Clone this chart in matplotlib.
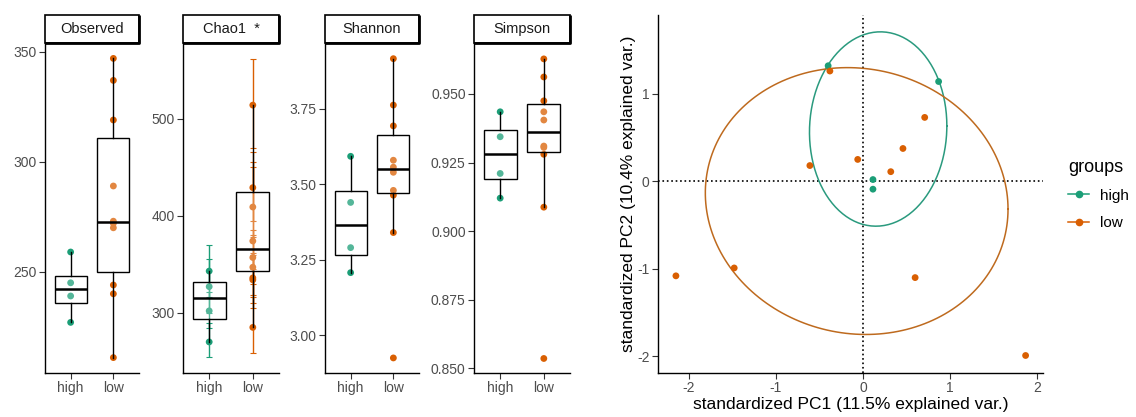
import matplotlib.pyplot as plt
import matplotlib.patches as mpatches
from matplotlib.lines import Line2D
import numpy as np

plt.rcParams['font.family'] = ['Liberation Sans', 'DejaVu Sans']
plt.rcParams['axes.unicode_minus'] = False

# colours (Dark2)
c_high = '#1B9E77'
c_low = '#D95F02'

groups = ['high', 'low']

# ---- alpha diversity points ----
obs_high = [259, 245, 239, 227]
obs_low = [347, 337, 319, 289, 273, 272, 270, 244, 240, 211]

chao_high = [343, 327, 302, 270]
chao_high_lo = [316, 300, 284, 254]
chao_high_hi = [370, 355, 321, 290]
chao_low = [514, 429, 409, 374, 357, 347, 336, 334, 285]
chao_low_lo = [470, 395, 378, 345, 330, 318, 310, 305, 259]
chao_low_hi = [562, 466, 455, 450, 385, 380, 362, 360, 316]

sha_high = [3.593, 3.44, 3.29, 3.207]
sha_low = [3.917, 3.763, 3.694, 3.58, 3.557, 3.54, 3.48, 3.464, 3.34, 2.924]

sim_high = [0.9435, 0.9344, 0.921, 0.912]
sim_low = [0.9628, 0.9562, 0.9475, 0.9435, 0.9405, 0.931, 0.9305, 0.928, 0.9087, 0.8535]

# box stats: whisker low, q1, median, q3, whisker high
obs_box = {'high': [227, 236, 242, 248, 259], 'low': [211, 250, 272.7, 311, 347]}
chao_box = {'high': [270, 294, 315, 332, 343], 'low': [285, 343, 366, 424, 514]}
sha_box = {'high': [3.207, 3.267, 3.365, 3.477, 3.593], 'low': [3.34, 3.47, 3.55, 3.664, 3.917]}
sim_box = {'high': [0.912, 0.919, 0.928, 0.9367, 0.9435], 'low': [0.9087, 0.929, 0.936, 0.9464, 0.9628]}

panels = [
    ('Observed', obs_high, obs_low, obs_box, (204, 354), [250, 300, 350], ['250', '300', '350']),
    ('Chao1  *', chao_high, chao_low, chao_box, (238, 578), [300, 400, 500], ['300', '400', '500']),
    ('Shannon', sha_high, sha_low, sha_box, (2.874, 3.969), [3.00, 3.25, 3.50, 3.75],
     ['3.00', '3.25', '3.50', '3.75']),
    ('Simpson', sim_high, sim_low, sim_box, (0.8482, 0.9686), [0.850, 0.875, 0.900, 0.925, 0.950],
     ['0.850', '0.875', '0.900', '0.925', '0.950']),
]
panel_x = [(45, 139), (183, 279), (325, 419), (474, 570)]

# ---- PCA scores ----
pc1_high = [-0.40, 0.87, 0.115, 0.115]
pc2_high = [1.32, 1.14, 0.02, -0.09]
pc1_low = [-0.38, -0.61, -0.06, 0.32, 0.46, 0.71, 0.60, 1.87, -2.15, -1.48]
pc2_low = [1.26, 0.18, 0.25, 0.11, 0.375, 0.73, -1.10, -1.99, -1.08, -0.99]

W, H = 1136, 417
fig = plt.figure(figsize=(W / 100, H / 100), dpi=100)

tick_col = '#4D4D4D'


def style_axes(ax):
    for s in ['top', 'right']:
        ax.spines[s].set_visible(False)
    for s in ['left', 'bottom']:
        ax.spines[s].set_linewidth(1.0)
        ax.spines[s].set_color('black')
    ax.tick_params(length=4, width=0.8, color='#333333', labelcolor=tick_col, labelsize=10, pad=2)


top_px, bot_px = 43, 373
for (title, hv, lv, box, ylim, yt, ytl), (x0, x1) in zip(panels, panel_x):
    ax = fig.add_axes([x0 / W, 1 - bot_px / H, (x1 - x0) / W, (bot_px - top_px) / H])
    style_axes(ax)
    # points
    for pos, vals, col in [(1, hv, c_high), (2, lv, c_low)]:
        if title.startswith('Chao1'):
            lo = chao_high_lo if pos == 1 else chao_low_lo
            hi = chao_high_hi if pos == 1 else chao_low_hi
            ax.errorbar([pos] * len(vals), vals,
                        yerr=[np.array(vals) - np.array(lo), np.array(hi) - np.array(vals)],
                        fmt='none', ecolor=col, elinewidth=1.0, capsize=2.5, capthick=0.8, zorder=2)
        ax.scatter([pos] * len(vals), vals, s=24, color=col, edgecolor='none', zorder=3)
    # boxes
    stats = []
    for g in groups:
        wl, q1, med, q3, wh = box[g]
        stats.append({'whislo': wl, 'q1': q1, 'med': med, 'q3': q3, 'whishi': wh, 'fliers': []})
    ax.bxp(stats, positions=[1, 2], widths=0.75, showfliers=False, patch_artist=True,
           boxprops=dict(facecolor=(1, 1, 1, 0.25), edgecolor='black', linewidth=1.0),
           medianprops=dict(color='black', linewidth=1.8),
           whiskerprops=dict(color='black', linewidth=1.0),
           capprops=dict(linewidth=0), zorder=4)
    ax.set_xlim(0.4, 2.6)
    ax.set_ylim(*ylim)
    ax.set_xticks([1, 2])
    ax.set_xticklabels(groups)
    ax.set_yticks(yt)
    ax.set_yticklabels(ytl)
    # strip
    sh = (top_px - 15) / (bot_px - top_px)
    rect = mpatches.Rectangle((0, 1), 1, sh, transform=ax.transAxes, facecolor='white',
                              edgecolor='black', linewidth=1.2, clip_on=False)
    ax.add_patch(rect)
    # heavier right and bottom edge of the strip
    ax.plot([1, 1, 0], [1 + sh, 1, 1], transform=ax.transAxes, color='black',
            linewidth=2.0, clip_on=False, solid_capstyle='butt', zorder=5)
    ax.text(0.5, 1 + sh / 2, title, transform=ax.transAxes, ha='center', va='center',
            fontsize=10.5, color='#1A1A1A')

# ---- PCA panel ----
ax = fig.add_axes([658 / W, 1 - 373 / H, (1043 - 658) / W, (373 - 15) / H])
style_axes(ax)
ax.axhline(0, color='black', linestyle=':', linewidth=1.2, zorder=1)
ax.axvline(0, color='black', linestyle=':', linewidth=1.2, zorder=1)

ed = np.sqrt(-2 * np.log(1 - 0.68))  # chi-square quantile, df=2
theta = np.linspace(0, 2 * np.pi, 200)
circle = np.column_stack([np.cos(theta), np.sin(theta)])
for xs, ys, col, ecol in [(pc1_high, pc2_high, c_high, '#2A9A7E'),
                          (pc1_low, pc2_low, c_low, '#BE6A1E')]:
    xy = np.column_stack([xs, ys])
    mu = xy.mean(axis=0)
    L = np.linalg.cholesky(np.cov(xy.T))
    ell = circle @ L.T * ed + mu
    ax.plot(ell[:, 0], ell[:, 1], color=ecol, linewidth=1.1, zorder=2)
    ax.scatter(xs, ys, s=24, color=col, edgecolor='none', zorder=3)

ax.set_xlim(-2.356, 2.07)
ax.set_ylim(-2.19, 1.90)
ax.set_xticks([-2, -1, 0, 1, 2])
ax.set_yticks([-2, -1, 0, 1])
ax.set_xlabel('standardized PC1 (11.5% explained var.)', fontsize=12.5, labelpad=1)
ax.set_ylabel('standardized PC2 (10.4% explained var.)', fontsize=12.5, labelpad=1)

handles = [Line2D([0], [0], color=c_high, marker='o', markersize=4.5, linewidth=1.1),
           Line2D([0], [0], color=c_low, marker='o', markersize=4.5, linewidth=1.1)]
leg = fig.legend(handles, groups, title='groups', loc='upper left',
                 bbox_to_anchor=(1068 / W, 1 - 159 / H), frameon=False, fontsize=11,
                 title_fontsize=13, handlelength=1.4, handletextpad=0.7, labelspacing=0.9,
                 borderpad=0, borderaxespad=0)
leg._legend_box.align = 'left'
leg._legend_box.sep = 9

fig.savefig('out.png', dpi=100)
